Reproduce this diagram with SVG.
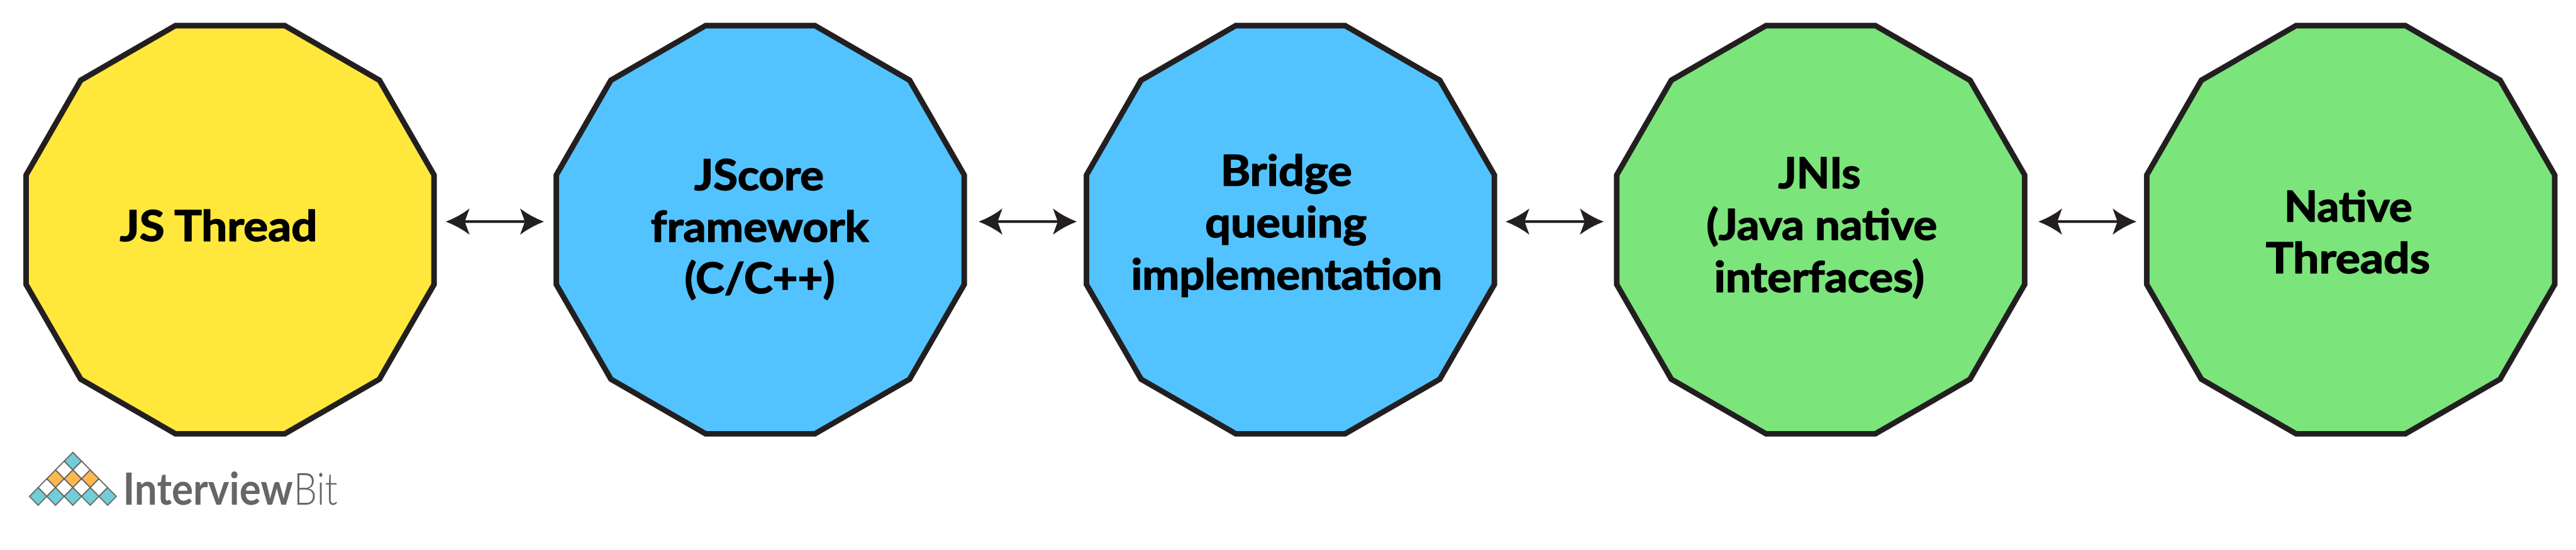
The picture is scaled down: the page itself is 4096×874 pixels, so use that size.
<svg xmlns="http://www.w3.org/2000/svg" xmlns:xlink="http://www.w3.org/1999/xlink" width="4096" height="874" viewBox="0 0 4096 874">
<style>
.y{fill:#FFE83B}.b{fill:#52C3FF}.g{fill:#7BE57B}
.shape{stroke:#231F20;stroke-width:16.7;stroke-linejoin:miter}
.t{font-family:"Lato","Noto Sans",sans-serif;font-weight:700;font-size:126px;fill:#000;stroke:#000;stroke-width:3;stroke-linejoin:round}
.ar{fill:#231F20}
.d{stroke:#666;stroke-width:3.5;stroke-linejoin:miter}
.w{fill:#fff}.c{fill:#72CDD7}.o{fill:#FDB94E}
.lg{font-family:"Lato","Noto Sans",sans-serif;font-size:135px;fill:#666}
</style>
<defs>
<polygon id="dodeca" points="-163.7,-610.8 163.7,-610.8 447.3,-447.3 610.8,-163.7 610.8,163.7 447.3,447.3 163.7,610.8 -163.7,610.8 -447.3,447.3 -610.8,163.7 -610.8,-163.7 -447.3,-447.3"/>
<path id="arrow" d="M0,0Q38,-14 71.3,-39.3L58.3,-4H235.3L222.3,-39.3Q256,-14 294,0Q256,14 222.3,39.3L235.3,4H58.3L71.3,39.3Q38,14 0,0Z"/>
<polygon id="dm" points="0,-26.4 26,0 0,26.4 -26,0"/>
</defs>
<rect width="4096" height="874" fill="#fff"/>
<g transform="scale(0.53098)">
<g id="connectors" class="ar">
<use href="#arrow" x="1335" y="663.3"/>
<use href="#arrow" x="2930.7" y="663.3"/>
<use href="#arrow" x="4508.7" y="663.3"/>
<use href="#arrow" x="6104" y="663.3"/>
</g>
<g id="node-js-thread">
<use href="#dodeca" x="689" y="687.5" class="shape y"/>
<text class="t" x="359" y="721" textLength="591" lengthAdjust="spacingAndGlyphs">JS Thread</text>
</g>
<g id="node-jscore">
<use href="#dodeca" x="2276.7" y="687.5" class="shape b"/>
<text class="t" x="2079" y="568" textLength="388" lengthAdjust="spacingAndGlyphs">JScore</text>
<text class="t" x="1949" y="723" textLength="653" lengthAdjust="spacingAndGlyphs">framework</text>
<text class="t" x="2050" y="878" textLength="450" lengthAdjust="spacingAndGlyphs">(C/C++)</text>
</g>
<g id="node-bridge">
<use href="#dodeca" x="3864.3" y="687.5" class="shape b"/>
<text class="t" x="3655" y="555" textLength="394" lengthAdjust="spacingAndGlyphs">Bridge</text>
<text class="t" x="3609" y="710.7" textLength="484" lengthAdjust="spacingAndGlyphs">queuing</text>
<text class="t" x="3387" y="865.7" textLength="932" lengthAdjust="spacingAndGlyphs">implementation</text>
</g>
<g id="node-jni">
<use href="#dodeca" x="5452.2" y="687.5" class="shape g"/>
<text class="t" x="5325" y="563" textLength="247" lengthAdjust="spacingAndGlyphs">JNIs</text>
<text class="t" x="5110" y="718" textLength="691" lengthAdjust="spacingAndGlyphs">(Java native</text>
<text class="t" x="5133" y="873" textLength="630" lengthAdjust="spacingAndGlyphs">interfaces)</text>
</g>
<g id="node-native">
<use href="#dodeca" x="7039.5" y="687.5" class="shape g"/>
<text class="t" x="6840" y="663" textLength="384" lengthAdjust="spacingAndGlyphs">Native</text>
<text class="t" x="6785" y="818" textLength="492" lengthAdjust="spacingAndGlyphs">Threads</text>
</g>
<g id="logo">
<use href="#dm" x="218.2" y="1380" class="d c"/>
<use href="#dm" x="192.2" y="1406.4" class="d w"/><use href="#dm" x="244.2" y="1406.4" class="d w"/>
<use href="#dm" x="166.2" y="1432.8" class="d o"/><use href="#dm" x="218.2" y="1432.8" class="d o"/><use href="#dm" x="270.2" y="1432.8" class="d o"/>
<use href="#dm" x="140.2" y="1459.2" class="d w"/><use href="#dm" x="192.2" y="1459.2" class="d w"/><use href="#dm" x="244.2" y="1459.2" class="d w"/><use href="#dm" x="296.2" y="1459.2" class="d w"/>
<use href="#dm" x="114.2" y="1485.6" class="d c"/><use href="#dm" x="166.2" y="1485.6" class="d c"/><use href="#dm" x="218.2" y="1485.6" class="d c"/><use href="#dm" x="270.2" y="1485.6" class="d c"/><use href="#dm" x="322.2" y="1485.6" class="d c"/>
<text class="lg" transform="translate(368,1510) scale(0.9,1)" textLength="565.6" lengthAdjust="spacingAndGlyphs" font-weight="700">Interview</text>
<text class="lg" transform="translate(879,1510) scale(0.9,1)" textLength="146.7" lengthAdjust="spacingAndGlyphs" font-weight="300">Bit</text>
</g>
</g>
</svg>
